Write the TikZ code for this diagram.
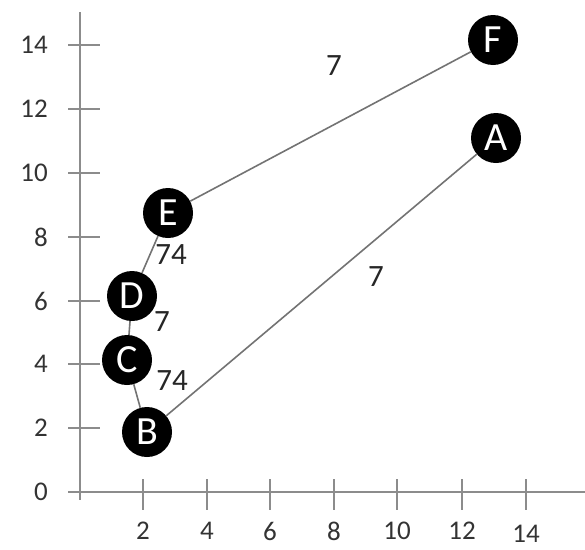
\documentclass[tikz,border=0pt]{standalone}
\usepackage{fontspec}
\setmainfont{Carlito}
\begin{document}
\begin{tikzpicture}[x=1pt,y=-1pt,
  vtx/.style={circle,fill=black,text=white,minimum size=50pt,inner sep=0pt,font=\fontsize{40}{40}\selectfont},
  edge/.style={draw=black!55,line width=1.6pt},
  axis/.style={draw=black!45,line width=1.8pt},
  tick/.style={draw=black!45,line width=1.4pt},
  ticklab/.style={text=black!80,font=\fontsize{27}{28}\selectfont,inner sep=0pt},
  wlab/.style={text=black!85,font=\fontsize{31}{32}\selectfont,inner sep=0pt}]
\useasboundingbox (0,0) rectangle (585,549);
% axes
\draw[axis] (68,492) -- (585,492);
\draw[axis] (80,12) -- (80,500);
\foreach \v/\py in {0/492,2/428,4/364,6/301,8/237,10/173,12/109,14/45}{
  \ifnum\v>0 \draw[tick] (68,\py) -- (100,\py);\fi
  \node[ticklab,anchor=east] at (48,\py) {\v};
}
\foreach \v/\px in {2/143,4/207,6/270,8/334,10/397,12/462,14/526}{
  \draw[tick] (\px,479) -- (\px,510);
  \node[ticklab] at (\px,\ifnum\v=14 534\else 531\fi) {\v};
}
% vertices
\node[vtx] (F) at (493,40) {F};
\node[vtx] (A) at (496,138) {A};
\node[vtx] (E) at (168,213) {E};
\node[vtx] (D) at (132,296) {D};
\node[vtx] (C) at (127,360) {C};
\node[vtx] (B) at (147,432) {B};
% edges
\draw[edge] (E) -- (F);
\draw[edge] (B) -- (A);
\draw[edge] (E) -- (D);
\draw[edge] (D) -- (C);
\draw[edge] (C) -- (B);
% weights
\node[wlab] (wEF) at (334,66) {7};
\node[wlab] (wBA) at (376,277) {7};
\node[wlab] (wED) at (171,255) {74};
\node[wlab] (wDC) at (162,322) {7};
\node[wlab] (wCB) at (172,381) {74};
\end{tikzpicture}
\end{document}
